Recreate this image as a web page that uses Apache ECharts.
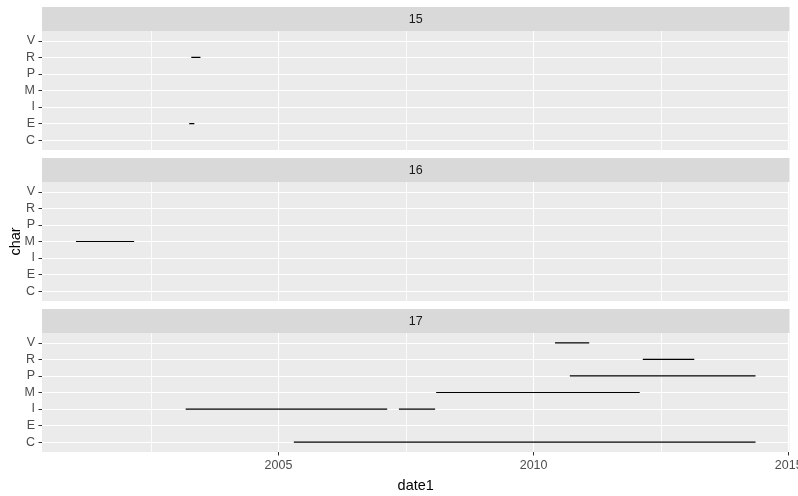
<!DOCTYPE html>
<html><head><meta charset="utf-8">
<script src="https://cdn.jsdelivr.net/npm/echarts@6/dist/echarts.min.js"></script>
<style>html,body{margin:0;padding:0;background:#fff}#c{width:798px;height:496px}</style>
</head><body><div id="c"></div>
<script>
const panels = ['15', '16', '17'];
const categories = ['C', 'E', 'I', 'M', 'P', 'R', 'V'];
const segPanel = ['15', '15', '16', '17', '17', '17', '17', '17', '17', '17'];
const segChar  = ['R', 'E', 'M', 'I', 'I', 'C', 'V', 'R', 'P', 'M'];
const segStart = [2003.29, 2003.25, 2001.03, 2003.18, 2007.36, 2005.30, 2010.42, 2012.14, 2010.71, 2008.09];
const segEnd   = [2003.47, 2003.35, 2002.17, 2007.13, 2008.07, 2014.35, 2011.09, 2013.15, 2014.35, 2012.08];
const xTickLabels = [2005, 2010, 2015];

const FONT = '"Liberation Sans", Arial, sans-serif';
const dmin = Math.min(...segStart), dmax = Math.max(...segEnd);
const pad = (dmax - dmin) * 0.05;
const xMin = dmin - pad, xMax = dmax + pad;

const L = 42, W = 747.5, PH = 119, SH = 24;
const stripTops = [7, 158, 309];

const grids = [], xAxes = [], yAxes = [], series = [], graphics = [];
panels.forEach((p, i) => {
  const top = stripTops[i] + SH;
  const last = i === panels.length - 1;
  grids.push({left: L, top: top, width: W, height: PH, show: true,
    backgroundColor: '#EBEBEB', borderWidth: 0, containLabel: false, outerBoundsMode: 'none'});
  xAxes.push({type: 'value', gridIndex: i, min: xMin, max: xMax, splitNumber: 3,
    axisLine: {show: false},
    axisTick: {show: last, length: 3.5, lineStyle: {color: '#333333', width: 1}, customValues: xTickLabels},
    axisLabel: {show: last, customValues: xTickLabels, color: '#4D4D4D', fontSize: 12.5, fontFamily: FONT, margin: 7,
      hideOverlap: false, formatter: v => (Math.abs(v % 5) < 1e-6 ? String(Math.round(v)) : '')},
    splitLine: {show: true, lineStyle: {color: '#FFFFFF', width: 1.1}},
    minorTick: {show: false, splitNumber: 2},
    minorSplitLine: {show: true, lineStyle: {color: '#FFFFFF', width: 0.8}},
    name: last ? 'date1' : '', nameLocation: 'middle', nameGap: 26,
    nameTextStyle: {color: '#000000', fontSize: 14.5, fontFamily: FONT}
  });
  const yIdx = categories.map((c, k) => k + 1);
  yAxes.push({type: 'value', gridIndex: i, min: 0.4, max: categories.length + 0.6,
    axisLine: {show: false},
    axisTick: {show: true, length: 3.5, lineStyle: {color: '#333333', width: 1}, customValues: yIdx},
    axisLabel: {show: true, customValues: yIdx, color: '#4D4D4D', fontSize: 12.5, fontFamily: FONT, margin: 7,
      formatter: v => categories[Math.round(v) - 1] || ''},
    splitLine: {show: true, lineStyle: {color: '#FFFFFF', width: 1.1}}
  });
  graphics.push({type: 'rect', shape: {x: L, y: stripTops[i], width: W, height: SH},
    style: {fill: '#D9D9D9'}, silent: true});
  graphics.push({type: 'text', x: L + W / 2, y: stripTops[i] + SH / 2 + 1,
    style: {text: p, fill: '#1A1A1A', font: '12.5px ' + FONT, textAlign: 'center', textVerticalAlign: 'middle'}, silent: true});
});

segPanel.forEach((p, k) => {
  const gi = panels.indexOf(p);
  const y = categories.indexOf(segChar[k]) + 1;
  series.push({type: 'line', xAxisIndex: gi, yAxisIndex: gi, symbol: 'none', silent: true,
    lineStyle: {color: '#000000', width: 1.2}, animation: false,
    data: [[segStart[k], y], [segEnd[k], y]]});
});

graphics.push({type: 'text', x: 16, y: 241.5, rotation: Math.PI / 2,
  style: {text: 'char', fill: '#000000', font: '14.5px ' + FONT, textAlign: 'center', textVerticalAlign: 'middle'}, silent: true});

const chart = echarts.init(document.getElementById('c'), null, {renderer: 'canvas'});
chart.setOption({animation: false, backgroundColor: '#FFFFFF', grid: grids, xAxis: xAxes, yAxis: yAxes, series: series, graphic: graphics});
</script></body></html>
